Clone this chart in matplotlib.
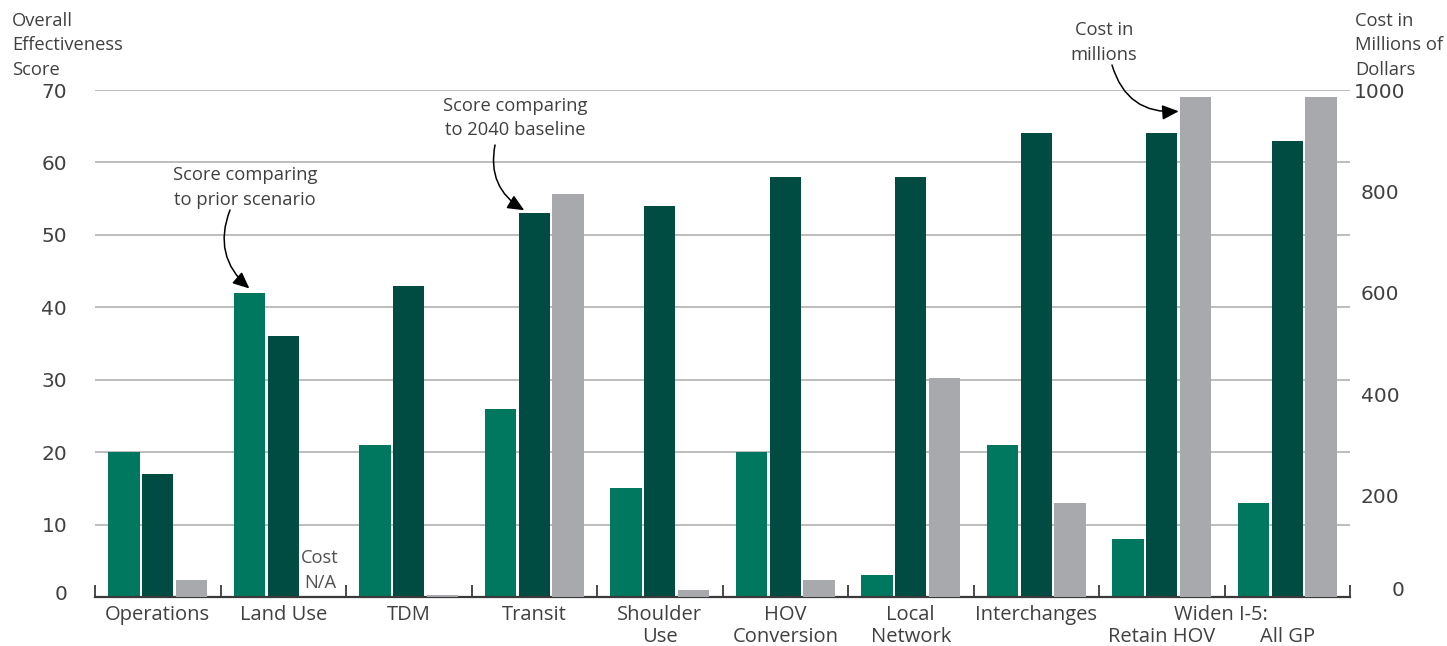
import numpy as np
import matplotlib
matplotlib.use("Agg")
import matplotlib.pyplot as plt
from matplotlib.transforms import ScaledTranslation

categories = ["Operations", "Land Use", "TDM", "Transit", "Shoulder\nUse",
              "HOV\nConversion", "Local\nNetwork", "Interchanges",
              "Retain HOV", "All GP"]
score_prior = [20, 42, 21, 26, 15, 20, 3, 21, 8, 13]
score_2040 = [17, 36, 43, 53, 54, 58, 58, 64, 64, 63]
cost_millions = [34, np.nan, 3, 795, 14, 34, 432, 185, 987, 987]
left_ticks = [0, 10, 20, 30, 40, 50, 60, 70]
right_ticks = [0, 200, 400, 600, 800, 1000]

C_GREEN = "#00785F"
C_DARK = "#004B42"
C_GRAY = "#A7A9AC"
TXT = "#404040"
FONT = "Open Sans"
NUMFONT = ["DejaVu Sans"]

plt.rcParams["font.family"] = [FONT, "DejaVu Sans"]

W, H = 1447, 646
fig = plt.figure(figsize=(W / 100, H / 100), dpi=100)
ax = fig.add_axes([95 / W, 1 - 597 / H, (1350 - 95) / W, (597 - 90) / H])
ax2 = ax.twinx()

x = np.arange(len(categories))
bw = 0.25
off = 0.27
ax.bar(x - off, score_prior, bw, color=C_GREEN, zorder=3)
ax.bar(x, score_2040, bw, color=C_DARK, zorder=3)
ax2.bar(x + off, cost_millions, bw, color=C_GRAY, zorder=3)

ax.set_xlim(-0.5, len(categories) - 0.5)
ax.set_ylim(0, 70)
ax2.set_ylim(0, 1000)

ax.set_yticks(left_ticks)
ax.set_yticklabels([str(v) for v in left_ticks], family=NUMFONT)
ax2.set_yticks(right_ticks)
ax2.set_yticklabels([str(v) for v in right_ticks], family=NUMFONT)

ax.yaxis.grid(True, color="#B8B8B8", linewidth=1.3, zorder=0)
ax.set_axisbelow(True)
for a in (ax, ax2):
    for s in ("left", "right", "top", "bottom"):
        a.spines[s].set_visible(False)
ax.spines["bottom"].set_visible(True)
ax.spines["bottom"].set_color("#3a3a3a")
ax.spines["bottom"].set_linewidth(1.6)
ax.spines["bottom"].set_zorder(4)

ax.tick_params(axis="y", length=0, pad=20, labelsize=14.5, labelcolor=TXT)
ax2.tick_params(axis="y", length=0, pad=21.5, labelsize=14.5, labelcolor=TXT)

ax.set_xticks(x)
ax.set_xticklabels(categories, fontsize=14.5, color=TXT, linespacing=1.12)
ax.set_xticks(np.arange(-0.5, len(categories)), minor=True)
ax.tick_params(axis="x", which="major", length=0, pad=6)
ax.tick_params(axis="x", which="minor", direction="in", length=9, width=1.3,
               color="#3a3a3a")

# group heading spanning the two widening scenarios
fig.text(1221 / W, 1 - 615 / H, "Widen I-5:", ha="center", va="center",
         fontsize=14.5, color=TXT)

# axis titles
fig.text(12 / W, 1 - 45.5 / H, "Overall\nEffectiveness\nScore", ha="left",
         va="center", fontsize=13.2, color=TXT, linespacing=1.45)
fig.text(1355 / W, 1 - 45.5 / H, "Cost in\nMillions of\nDollars", ha="left",
         va="center", fontsize=13.2, color=TXT, linespacing=1.45)

# annotations
def note(txt, cx, cy, start, target, axis, rad):
    fig.text(cx / W, 1 - cy / H, txt, ha="center", va="center", fontsize=13.2,
             color=TXT, linespacing=1.45)
    axis.annotate("", xy=target, xycoords="data",
                  xytext=(start[0], H - start[1]), textcoords="figure pixels",
                  arrowprops=dict(arrowstyle="-|>,head_length=1.0,head_width=0.45",
                                  color="black", lw=1.1,
                                  connectionstyle=f"arc3,rad={rad}",
                                  shrinkA=0, shrinkB=0),
                  zorder=6)

note("Score comparing\nto prior scenario", 245, 187.5, (230, 210),
     (1 - off, 42.6), ax, 0.35)
note("Score comparing\nto 2040 baseline", 515, 118, (495, 145),
     (3 - 0.08, 53.4), ax, 0.35)
note("Cost in\nmillions", 1104, 42.5, (1112, 65),
     (8 + off - bw / 2 - 0.01, 958), ax2, 0.4)

fig.text(320 / W, 1 - 570.5 / H, "Cost\nN/A", ha="center", va="center",
         fontsize=13.2, color="#505050", linespacing=1.45)

# per-tick tweaks (second-line labels under the "Widen I-5:" heading)
xt = ax.xaxis.get_major_ticks()
for i in (8, 9):
    xt[i].set_pad(6 + 15.5)

for t in ax2.yaxis.get_major_ticks():
    t.label2.set_horizontalalignment("center")

def shift(lab, dx, dy):
    lab.set_transform(lab.get_transform() +
                      ScaledTranslation(dx / 100, dy / 100, fig.dpi_scale_trans))

shift(ax.yaxis.get_major_ticks()[0].label1, 0, 4)
shift(ax2.yaxis.get_major_ticks()[0].label2, 18, 9)

fig.savefig("out.png", dpi=100)
